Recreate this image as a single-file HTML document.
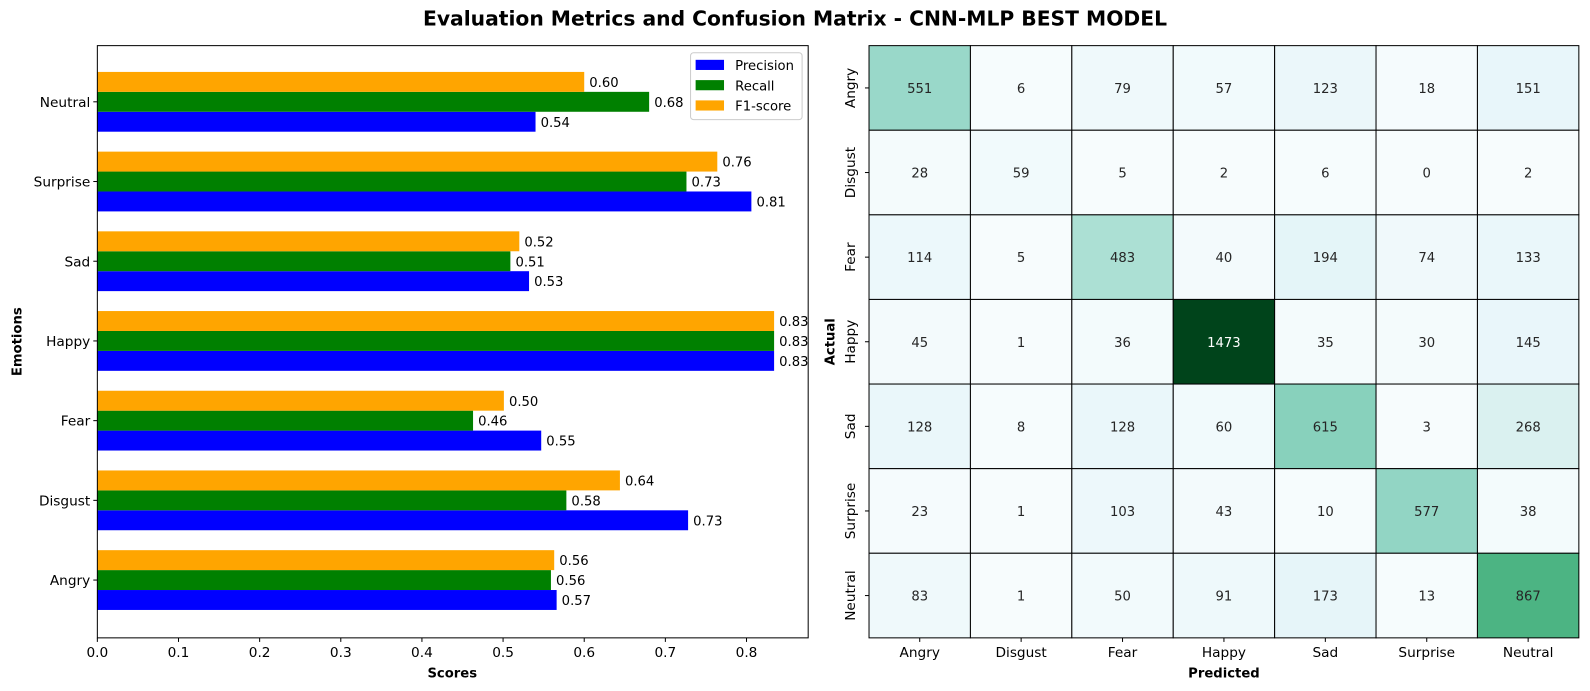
<!DOCTYPE html>
<html><head><meta charset="utf-8"><style>
body{margin:0;background:#fff;font-family:"Liberation Sans","DejaVu Sans",sans-serif;}
svg{display:block}
svg text{font-family:"DejaVu Sans","Liberation Sans",sans-serif;}
</style></head><body>
<svg id="c" width="1590" height="691" viewBox="0 0 1568 681.4" preserveAspectRatio="none" xmlns="http://www.w3.org/2000/svg">
<text x="784" y="25" text-anchor="middle" font-size="20" font-weight="bold">Evaluation Metrics and Confusion Matrix - CNN-MLP BEST MODEL</text>
<g id="bars"></g>
<g id="heat"></g>
</svg>
<script>
const emotions=["Angry","Disgust","Fear","Happy","Sad","Surprise","Neutral"];
const precision=[0.566,0.728,0.547,0.834,0.532,0.806,0.54];
const recall=[0.559,0.578,0.463,0.834,0.509,0.726,0.68];
const f1=[0.563,0.644,0.501,0.834,0.52,0.764,0.60];
const xTicks=[0,0.1,0.2,0.3,0.4,0.5,0.6,0.7,0.8];
const matrix=[
[551,6,79,57,123,18,151],
[28,59,5,2,6,0,2],
[114,5,483,40,194,74,133],
[45,1,36,1473,35,30,145],
[128,8,128,60,615,3,268],
[23,1,103,43,10,577,38],
[83,1,50,91,173,13,867]];
const NS="http://www.w3.org/2000/svg";
function mk(p,tag,attrs,txt){const e=document.createElementNS(NS,tag);for(const k in attrs)e.setAttribute(k,attrs[k]);if(txt!==undefined)e.textContent=txt;p.appendChild(e);return e;}
const B=document.getElementById('bars');
const L=96,R=797,T=45,Bt=629,XMAX=0.876;
const xs=v=>L+v/XMAX*(R-L);
const bh=78.6*0.25;
const series=[{d:precision,c:"#0000ff",o:0.25,n:"precision"},{d:recall,c:"#008000",o:0,n:"recall"},{d:f1,c:"#ffa500",o:-0.25,n:"f1"}];
const cy=i=>572-i*78.6;
series.forEach(s=>{s.d.forEach((v,i)=>{
 const y=cy(i)+s.o*78.6;
 const r=mk(B,'rect',{x:L,y:y-bh/2,width:xs(v)-L,height:bh,fill:s.c});
 
 
 const t=mk(B,'text',{x:xs(v)+5,y:y+5,'font-size':13},v.toFixed(2));
 
 
});});
mk(B,'rect',{x:L,y:T,width:R-L,height:Bt-T,fill:'none',stroke:'#000','stroke-width':1});
xTicks.forEach(v=>{mk(B,'line',{x1:xs(v),x2:xs(v),y1:Bt,y2:Bt+4,stroke:'#000'});
 const t=mk(B,'text',{x:xs(v),y:Bt+19,'font-size':13.5,'text-anchor':'middle'},v.toFixed(1));
 
 });
emotions.forEach((e,i)=>{mk(B,'line',{x1:L-4,x2:L,y1:cy(i),y2:cy(i),stroke:'#000'});
 const t=mk(B,'text',{x:L-7,y:cy(i)+5,'font-size':13.5,'text-anchor':'end'},e);
 
 });
mk(B,'text',{x:446,y:668,'font-size':13,'font-weight':'bold','text-anchor':'middle',},'Scores');
mk(B,'text',{x:21,y:337,'font-size':13,'font-weight':'bold','text-anchor':'middle',transform:'rotate(-90 21 337)',},'Emotions');
const lg=mk(B,'g',{});
mk(lg,'rect',{x:681,y:52,width:110,height:66,fill:'#fff',stroke:'#ccc',rx:3});
[["Precision","#0000ff"],["Recall","#008000"],["F1-score","#ffa500"]].forEach((a,k)=>{
 mk(lg,'rect',{x:686,y:59+k*20,width:28,height:10,fill:a[1]});
 mk(lg,'text',{x:725,y:69+k*20,'font-size':13},a[0]);});
const H=document.getElementById('heat');
const HL=857,HR=1557,HT=45,HB=629;const cw=(HR-HL)/7,ch=(HB-HT)/7;
const stops=["#f7fcfd","#e5f5f9","#ccece6","#99d8c9","#66c2a4","#41ae76","#238b45","#006d2c","#00441b"];
function hx(h){return [1,3,5].map(i=>parseInt(h.substr(i,2),16));}
function cmap(t){t=Math.max(0,Math.min(1,t))*(stops.length-1);const i=Math.min(Math.floor(t),stops.length-2),f=t-i;const a=hx(stops[i]),b=hx(stops[i+1]);return 'rgb('+a.map((v,k)=>Math.round(v+(b[k]-v)*f)).join(',')+')';}
const vmax=Math.max(...matrix.flat());
matrix.forEach((row,r)=>row.forEach((v,c)=>{
 const cell=mk(H,'rect',{x:HL+c*cw,y:HT+r*ch,width:cw,height:ch,fill:cmap(v/vmax),stroke:'#000','stroke-width':1});
 
 
 const t=mk(H,'text',{x:HL+(c+.5)*cw,y:HT+(r+.5)*ch+5,'font-size':13,'text-anchor':'middle',fill:v/vmax>0.6?'#fff':'#262626'},String(v));
 
 
}));
emotions.forEach((e,i)=>{
 const x=HL+(i+.5)*cw,y=HT+(i+.5)*ch;
 mk(H,'line',{x1:x,x2:x,y1:HB,y2:HB+4,stroke:'#000'});
 const t=mk(H,'text',{x:x,y:HB+19,'font-size':13.5,'text-anchor':'middle'},e);
 
 
 mk(H,'line',{x1:HL-4,x2:HL,y1:y,y2:y,stroke:'#000'});
 const u=mk(H,'text',{x:843,y:y,'font-size':13.5,'text-anchor':'middle',transform:'rotate(-90 843 '+y+')'},e);
 
 
});
mk(H,'text',{x:1207,y:668,'font-size':13,'font-weight':'bold','text-anchor':'middle',},'Predicted');
mk(H,'text',{x:823,y:337,'font-size':13,'font-weight':'bold','text-anchor':'middle',transform:'rotate(-90 823 337)',},'Actual');
</script>
</body></html>
